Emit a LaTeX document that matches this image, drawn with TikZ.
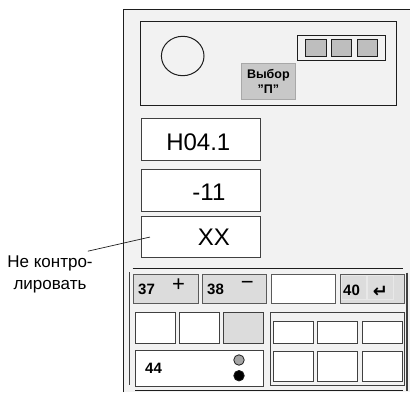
\documentclass[tikz,border=0pt]{standalone}
\usepackage{fontspec}
\setmainfont{Liberation Sans}
\newfontfamily\symfont{DejaVu Sans}
\usepackage{tikz}
\usetikzlibrary{positioning}
\definecolor{panelbg}{RGB}{242,242,242}
\definecolor{keygray}{RGB}{220,220,220}
\definecolor{selgray}{RGB}{200,200,200}
\definecolor{seledge}{RGB}{168,168,168}
\definecolor{ledgray}{RGB}{190,190,190}
\definecolor{lampgray}{RGB}{165,165,165}
\definecolor{framedark}{RGB}{30,30,30}
\definecolor{boxdark}{RGB}{64,64,64}
\definecolor{keyedge}{RGB}{90,90,90}
\definecolor{keyfaint}{RGB}{232,232,232}
\tikzset{
  frame/.style={draw=framedark, line width=1pt},
  display/.style={rectangle, draw=boxdark, fill=white, line width=1.1pt,
    anchor=north west, inner sep=0pt, minimum width=119.3pt, minimum height=41.6pt},
  disptext/.style={font=\fontsize{24}{26}\selectfont, inner sep=0pt},
  keybox/.style={rectangle, draw=keyedge, fill=keygray, line width=1pt,
    anchor=north west, inner sep=0pt, minimum width=64.4pt, minimum height=29.3pt},
  cellbox/.style={rectangle, draw=boxdark, fill=white, line width=1pt,
    anchor=north west, inner sep=0pt, minimum width=40pt},
  keynum/.style={font=\fontsize{15}{18}\selectfont\bfseries, inner sep=0pt},
  keysign/.style={font=\fontsize{22}{24}\selectfont, inner sep=0pt},
  ledbox/.style={rectangle, draw=framedark, fill=ledgray, line width=1pt,
    anchor=north west, inner sep=0pt, minimum width=20.3pt, minimum height=16.7pt},
  lamp/.style={circle, draw=framedark, line width=0.8pt, inner sep=0pt,
    minimum size=10.5pt},
  leader/.style={draw=framedark, line width=0.7pt}
}

\begin{document}
\begin{tikzpicture}[x=1pt, y=-1pt]
  \useasboundingbox (0,0) rectangle (410,392);

  % Panel
  \fill[panelbg] (123,9) rectangle (410,392);
  \draw[frame] (123,392) -- (123,9) -- (410,9);

  % Upper block
  \draw[frame] (140,21.7) rectangle (396,105);
  \draw[frame] (182.7,56) ellipse [x radius=21.3, y radius=19.7];
  \node[rectangle, draw=seledge, fill=selgray, line width=1pt, anchor=north west,
        inner sep=0pt, minimum width=53.7pt, minimum height=35.4pt, align=center,
        font=\fontsize{12.5}{15.5}\selectfont\bfseries] (select) at (241,63.3)
        {Выбор\\"П"};
  \draw[frame] (297.3,35) rectangle (385.3,60);
  \node[ledbox] (led1) at (305.3,39.3) {};
  \node[ledbox] (led2) at (331,39.3) {};
  \node[ledbox] (led3) at (356.7,39.3) {};

  % Displays
  \node[display] (disp1) at (140.7,118.3) {};
  \node[disptext] (h041) at ([xshift=-2.6pt, yshift=-2.5pt]disp1.center) {H04.1};
  \node[display] (disp2) at (140.7,169.3) {};
  \node[disptext] (m11) at ([xshift=8pt, yshift=-1.3pt]disp2.center) {-11};
  \node[display] (disp3) at (140.7,215.7) {};
  \node[disptext] (xx) at ([xshift=13pt]disp3.center) {XX};

  % Note
  \node[align=center, inner sep=2pt, font=\fontsize{17}{22}\selectfont] (note)
        at (50,274) {Не контро-\\лировать};
  \coordinate (tip) at ([xshift=9.3pt]disp3.west);
  \draw[leader] ([xshift=-7pt, yshift=2pt]note.north east) -- (tip);

  % Keypad
  \draw[frame] (132.7,268) -- (403.3,268);
  \draw[frame] (135,390) -- (403,390);
  \draw[draw=boxdark, line width=1pt] (129,272) -- (129,385);
  \draw[draw=boxdark, line width=1.5pt] (407,272.7) -- (407,390.7);

  \node[keybox] (k37) at (133.3,274) {};
  \node[keynum, anchor=west] (t37) at ([xshift=4.7pt]k37.west) {37};
  \node[keysign] (plus) at ([xshift=12.5pt, yshift=3.6pt]k37.center) {+};
  \node[keybox] (k38) at (201.7,274) {};
  \node[keynum, anchor=west] (t38) at ([xshift=5.3pt]k38.west) {38};
  \node[keysign] (minus) at ([xshift=12.8pt, yshift=3.6pt]k38.center) {−};
  \node[keybox, fill=white] (kblank) at (270.7,274) {};
  \node[keybox] (k40) at (340,274) {};
  \draw[keyfaint, line width=0.7pt] (341.7,275.3) rectangle (366.7,299.7)
                                    (367.3,275.3) rectangle (393.3,299.7);
  \node[keynum, anchor=west] (t40) at ([xshift=3pt, yshift=-1pt]k40.west) {40};
  \node[inner sep=0pt, font=\symfont\fontsize{18}{20}\selectfont\bfseries] (enter)
        at ([xshift=7.8pt, yshift=-3pt]k40.center) {↵};

  \node[cellbox, minimum height=30.4pt] (c1) at (135,312.3) {};
  \node[cellbox, minimum height=30.4pt] (c2) at (179,312.3) {};
  \node[cellbox, minimum height=30.4pt, fill=keygray] (c3) at (223.3,312.3) {};
  \node[cellbox, minimum width=127.7pt, minimum height=36pt] (k44) at (135,350) {};
  \node[keynum, anchor=west] (t44) at ([xshift=10pt]k44.west) {44};
  \node[lamp, fill=lampgray] (lamp1) at (239,360) {};
  \node[lamp, fill=black] (lamp2) at (239,375.7) {};

  \draw[frame, draw=boxdark] (270.7,312.3) rectangle (404,385.7);
  \node[cellbox, minimum height=22pt] (g11) at (273.3,320.7) {};
  \node[cellbox, minimum height=22pt] (g12) at (317.3,320.7) {};
  \node[cellbox, minimum height=22pt] (g13) at (361.7,320.7) {};
  \node[cellbox, minimum height=30pt] (g21) at (273.3,350.7) {};
  \node[cellbox, minimum height=30pt] (g22) at (317.3,350.7) {};
  \node[cellbox, minimum height=30pt] (g23) at (361.7,350.7) {};
\end{tikzpicture}
\end{document}
